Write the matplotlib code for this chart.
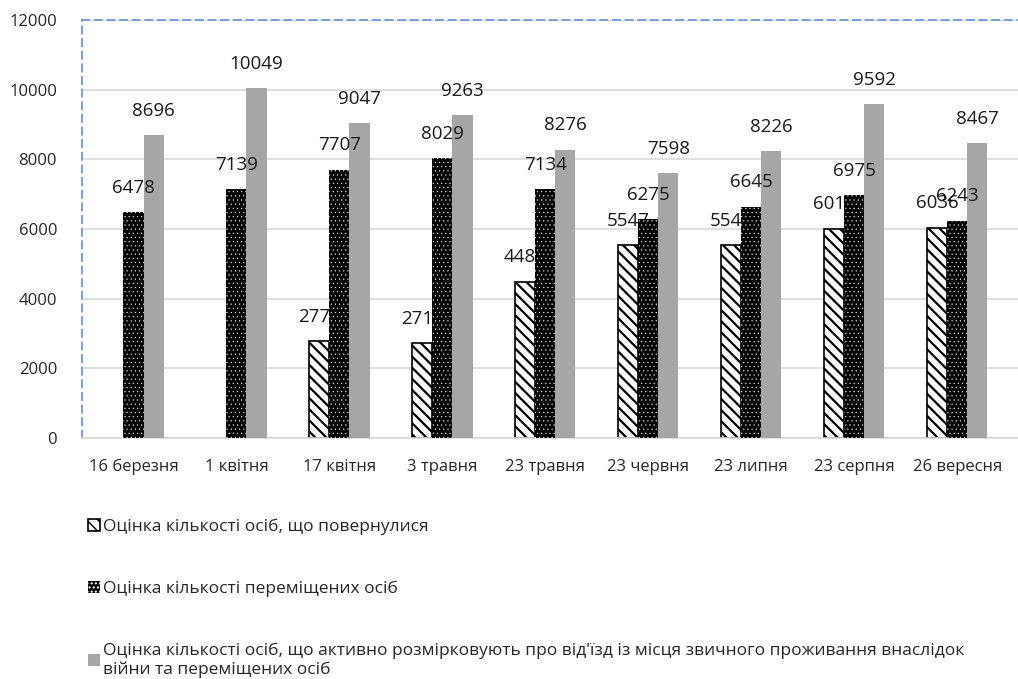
import numpy as np
import matplotlib
matplotlib.use("Agg")
import matplotlib.pyplot as plt

#data
dates = ["16 березня", "1 квітня", "17 квітня", "3 травня", "23 травня",
         "23 червня", "23 липня", "23 серпня", "26 вересня"]
returned = [np.nan, np.nan, 2775, 2715, 4489, 5547, 5540, 6013, 6036]
displaced = [6478, 7139, 7707, 8029, 7134, 6275, 6645, 6975, 6243]
thinking = [8696, 10049, 9047, 9263, 8276, 7598, 8226, 9592, 8467]

names = ["Оцінка кількості осіб, що повернулися",
         "Оцінка кількості переміщених осіб",
         "Оцінка кількості осіб, що активно розмірковують про від'їзд із місця звичного проживання внаслідок\nвійни та переміщених осіб"]

plt.rcParams["font.family"] = ["Open Sans", "DejaVu Sans"]

fig = plt.figure(figsize=(10.18, 6.79), dpi=100)
ax = fig.add_axes([82/1018, 1-438/679, 1-82/1018, 418/679])

x = np.arange(len(dates))
w = 0.195
txt = "#1a1a1a"

#series 1: white with diagonal stripes
with plt.rc_context({"hatch.linewidth": 1.6}):
    b1 = ax.bar(x - w, returned, w, facecolor="white", edgecolor="black",
                hatch="\\\\\\", linewidth=1.2, zorder=2, label=names[0])
for xi, v in zip(x, returned):
    if not np.isnan(v):
        ax.annotate(str(int(v)), (xi - w, v), xytext=(0, 11), textcoords="offset points",
                    ha="center", va="bottom", fontsize=13.5, color=txt, zorder=2.5)

#series 2: black with small white dots
with plt.rc_context({"hatch.linewidth": 0.3}):
    b2 = ax.bar(x, displaced, w, facecolor="black", edgecolor="white",
                hatch="....", linewidth=0, zorder=3, label=names[1])
b3 = ax.bar(x + w, thinking, w, color="#a6a6a6", linewidth=0, zorder=3, label=names[2])

for xi, v in zip(x, displaced):
    ax.annotate(str(v), (xi, v), xytext=(0, 11), textcoords="offset points",
                ha="center", va="bottom", fontsize=13.5, color=txt, zorder=5)
for xi, v in zip(x, thinking):
    ax.annotate(str(v), (xi + w, v), xytext=(0, 11), textcoords="offset points",
                ha="center", va="bottom", fontsize=13.5, color=txt, zorder=5)

ax.set_ylim(0, 12000)
ax.set_yticks(range(0, 12001, 2000))
ax.set_xlim(-0.5, len(dates) - 0.41)
ax.set_xticks(x)
ax.set_xticklabels(dates)
ax.tick_params(length=0, labelsize=12, colors="#262626")
ax.tick_params(axis="x", pad=15)
ax.tick_params(axis="y", pad=18)
ax.grid(axis="y", color="#d9d9d9", linewidth=1.2, zorder=0)
ax.set_axisbelow(True)

#chart selection border (dashed) on top and left
for s in ["top", "left"]:
    ax.spines[s].set_color("#6f97dc")
    ax.spines[s].set_linestyle((0, (4, 3)))
    ax.spines[s].set_linewidth(1.3)
ax.spines["right"].set_visible(False)
ax.spines["bottom"].set_color("#d9d9d9")
ax.spines["bottom"].set_linewidth(1.2)

leg = fig.legend(handles=[b1, b2, b3], loc="upper left",
                 bbox_to_anchor=(72/1018, 1-503/679), frameon=False,
                 fontsize=12.5, labelspacing=2.62, handlelength=0.7, handleheight=0.7,
                 handletextpad=0.2, labelcolor="#262626")
leg.get_texts()[2].set_linespacing(1.25)

fig.savefig("out.png", dpi=100)
